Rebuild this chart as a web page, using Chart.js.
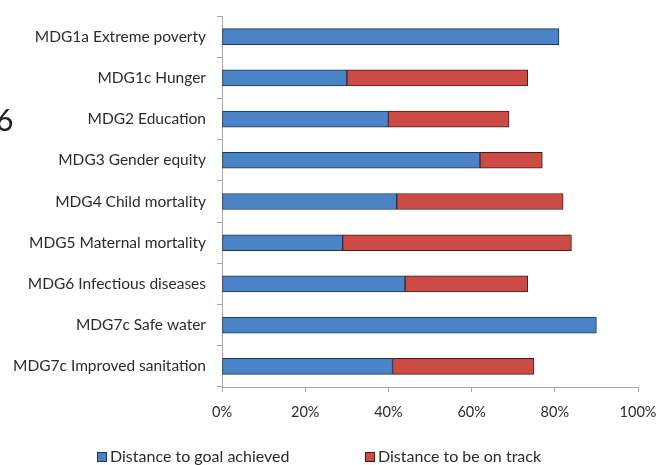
<!DOCTYPE html>
<html>
<head>
<meta charset="utf-8">
<script src="https://cdn.jsdelivr.net/npm/chart.js@4/dist/chart.umd.min.js"></script>
<style>
  html, body { margin: 0; padding: 0; background: #fff; }
  #wrap { position: relative; width: 659px; height: 465px; }
  canvas { display: block; }
</style>
</head>
<body>
<div id="wrap"><canvas id="c" width="659" height="465"></canvas></div>
<script>
// MDG progress: share of the distance to each goal already covered,
// and the extra share needed to be on track.
const categories = [
  'MDG1a Extreme poverty',
  'MDG1c Hunger',
  'MDG2 Education',
  'MDG3 Gender equity',
  'MDG4 Child mortality',
  'MDG5 Maternal mortality',
  'MDG6 Infectious diseases',
  'MDG7c Safe water',
  'MDG7c Improved sanitation'
];
const goalAchieved = [81, 30, 40, 62, 42, 29, 44, 90, 41];
const toBeOnTrack  = [0, 43.5, 29, 15, 40, 55, 29.5, 0, 34];
const seriesNames = ['Distance to goal achieved', 'Distance to be on track'];
const xTicks = [0, 20, 40, 60, 80, 100];

const FONT = 'Lato, "Open Sans", sans-serif';
const TEXT = '#2b2b2b';

// Legend drawn under the plot, two widely spaced entries.
const legendPlugin = {
  id: 'bottomLegend',
  afterDraw(chart) {
    const ctx = chart.ctx;
    const items = [
      { x: 97, ds: chart.data.datasets[0] },
      { x: 365, ds: chart.data.datasets[1] }
    ];
    const y = 457;
    ctx.save();
    ctx.font = '16px ' + FONT;
    ctx.textBaseline = 'middle';
    items.forEach(it => {
      ctx.fillStyle = it.ds.backgroundColor;
      ctx.strokeStyle = it.ds.borderColor;
      ctx.lineWidth = 1;
      ctx.fillRect(it.x + 0.5, y - 4.5, 9, 9);
      ctx.strokeRect(it.x + 0.5, y - 4.5, 9, 9);
      ctx.fillStyle = TEXT;
      ctx.fillText(it.ds.label, it.x + 13, y);
    });
    ctx.restore();
  }
};

// Part of a larger heading cut off at the left edge.
const edgeGlyph = {
  id: 'edgeGlyph',
  afterDraw(chart) {
    const ctx = chart.ctx;
    ctx.save();
    ctx.font = '30px ' + FONT;
    ctx.fillStyle = '#222';
    ctx.textBaseline = 'alphabetic';
    ctx.fillText('6', -4, 131);
    ctx.restore();
  }
};

new Chart(document.getElementById('c'), {
  type: 'bar',
  data: {
    labels: categories,
    datasets: [
      {
        label: seriesNames[0],
        data: goalAchieved,
        backgroundColor: '#4a83c6',
        borderColor: '#1e3552',
        borderWidth: 1,
        borderSkipped: false,
        barThickness: 16
      },
      {
        label: seriesNames[1],
        data: toBeOnTrack,
        backgroundColor: '#cd4b45',
        borderColor: '#4a1a17',
        borderWidth: 1,
        borderSkipped: false,
        barThickness: 16
      }
    ]
  },
  options: {
    indexAxis: 'y',
    responsive: false,
    animation: false,
    layout: { padding: { left: 0, top: 16, right: 21, bottom: 42 } },
    plugins: {
      legend: { display: false },
      tooltip: { enabled: false }
    },
    scales: {
      x: {
        stacked: true,
        min: 0,
        max: 100,
        afterBuildTicks(scale) { scale.ticks = xTicks.map(v => ({ value: v })); },
        afterFit(scale) {
          scale.height = 36;
          scale.paddingLeft = 0;
          scale.paddingRight = 0;
        },
        border: { display: true, color: '#a6a6a6', width: 1 },
        grid: { display: true, drawOnChartArea: false, drawTicks: true, tickLength: 5, color: '#a6a6a6' },
        ticks: {
          padding: 12,
          color: TEXT,
          font: { family: FONT, size: 14.5 },
          callback: v => v + '%'
        }
      },
      y: {
        stacked: true,
        afterFit(scale) {
          scale.width = 222;
          scale.paddingTop = 0;
          scale.paddingBottom = 0;
        },
        border: { display: true, color: '#a6a6a6', width: 1 },
        grid: { display: true, drawOnChartArea: false, drawTicks: true, tickLength: 5, offset: true, color: '#a6a6a6' },
        ticks: {
          padding: 11,
          color: TEXT,
          font: { family: FONT, size: 15.5 }
        }
      }
    }
  },
  plugins: [legendPlugin, edgeGlyph]
});
</script>
</body>
</html>
